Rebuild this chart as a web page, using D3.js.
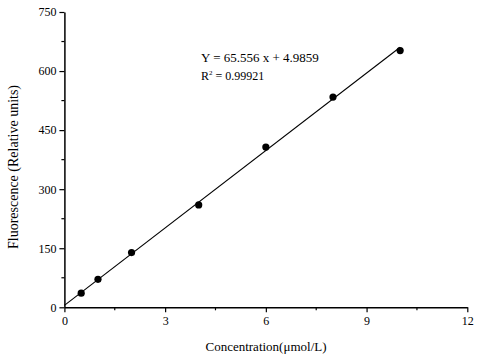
<!DOCTYPE html>
<html><head><meta charset="utf-8">
<script src="https://cdn.jsdelivr.net/npm/d3@7"></script>
<style>
html,body{margin:0;padding:0;background:#fff;}
svg{display:block;}
text{font-family:"Liberation Serif","Times New Roman",serif;fill:#000;}
</style></head>
<body>
<script>
const concentration = [0.5, 1, 2, 4, 6, 8, 10];
const fluorescence = [36, 71, 139, 260, 407, 534, 652];
const slope = 65.556, intercept = 4.9859;
const fitRange = [0, 10];
const xTicks = [0, 3, 6, 9, 12];
const yTicks = [0, 150, 300, 450, 600, 750];
const xMinor = [1.5, 4.5, 7.5, 10.5];
const yMinor = [75, 225, 375, 525, 675];

const W = 480, H = 360;
const svg = d3.select("body").append("svg").attr("width", W).attr("height", H);
const x = d3.scaleLinear().domain([0, 12]).range([64.4, 467.3]);
const y = d3.scaleLinear().domain([0, 750]).range([307.3, 12]);

const xAxis = svg.append("g").attr("transform", `translate(0,${y(0)})`)
  .call(d3.axisBottom(x).tickValues(xTicks).tickSize(5).tickSizeOuter(0).tickPadding(4).tickFormat(d3.format("d")));
const yAxis = svg.append("g").attr("transform", `translate(${x(0)},0)`)
  .call(d3.axisLeft(y).tickValues(yTicks).tickSize(5).tickSizeOuter(0).tickPadding(3).tickFormat(d3.format("d")));
[xAxis, yAxis].forEach(g => {
  g.select(".domain").attr("stroke", "#000").attr("stroke-width", 1.5);
  g.selectAll(".tick line").attr("stroke", "#000").attr("stroke-width", 1.2);
  g.selectAll(".tick text").style("font-size", "12px").style("font-family", '"Liberation Serif",serif');
});
svg.append("g").selectAll("line").data(xMinor).join("line")
  .attr("x1", d => x(d)).attr("x2", d => x(d)).attr("y1", y(0)).attr("y2", y(0) + 3)
  .attr("stroke", "#000").attr("stroke-width", 1.2);
svg.append("g").selectAll("line").data(yMinor).join("line")
  .attr("x1", x(0)).attr("x2", x(0) - 3).attr("y1", d => y(d)).attr("y2", d => y(d))
  .attr("stroke", "#000").attr("stroke-width", 1.2);

// fit line
svg.append("line")
  .attr("x1", x(fitRange[0])).attr("y1", y(slope * fitRange[0] + intercept))
  .attr("x2", x(fitRange[1])).attr("y2", y(slope * fitRange[1] + intercept))
  .attr("stroke", "#000").attr("stroke-width", 1.1);

// points
svg.append("g").selectAll("circle").data(concentration).join("circle")
  .attr("cx", d => x(d)).attr("cy", (d, i) => y(fluorescence[i])).attr("r", 3.6).attr("fill", "#000");

// equation
svg.append("text").attr("x", 201).attr("y", 62).style("font-size", "13px")
  .text(`Y = ${slope} x + ${intercept}`);
const r2 = svg.append("text").attr("x", 201).attr("y", 80).style("font-size", "12px");
r2.append("tspan").text("R");
r2.append("tspan").attr("dy", -5).style("font-size", "7px").text("2");
r2.append("tspan").attr("dy", 5).text(" = 0.99921");

// axis labels
svg.append("text").attr("x", 266).attr("y", 351).attr("text-anchor", "middle").style("font-size", "13px")
  .text("Concentration(μmol/L)");
svg.append("text").attr("transform", "translate(18,167) rotate(-90)").attr("text-anchor", "middle").style("font-size", "14px")
  .text("Fluorescence (Relative units)");
</script>
</body></html>
